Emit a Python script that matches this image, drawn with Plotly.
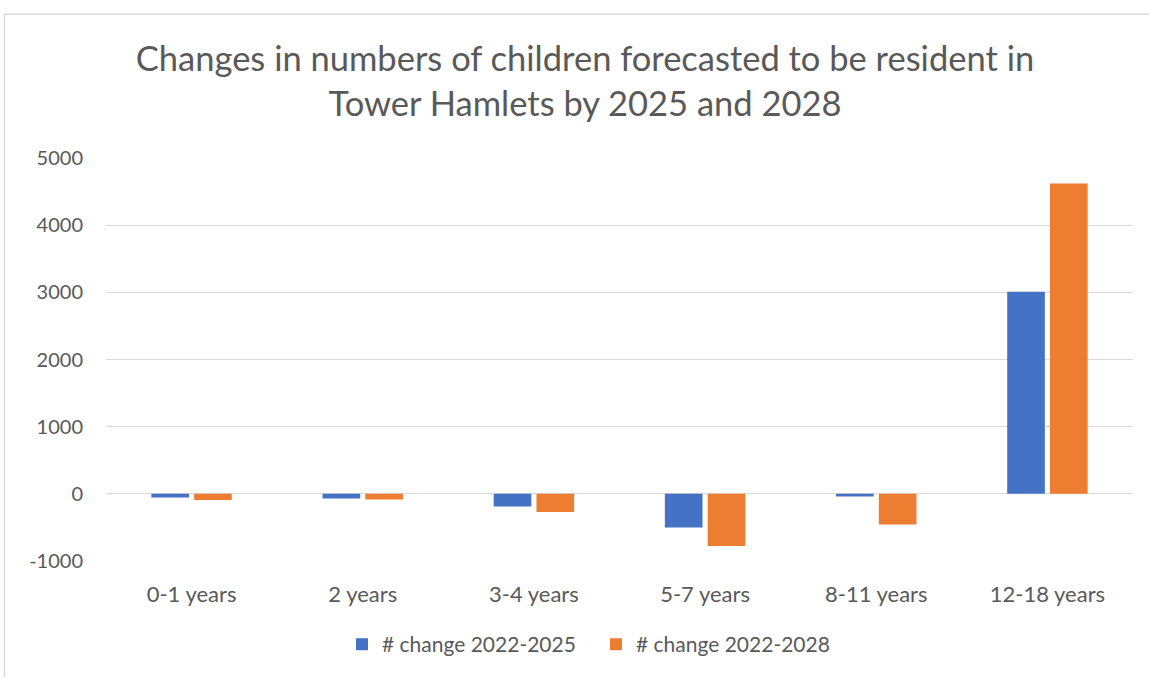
import plotly.graph_objects as go

# Age bands and forecast changes in resident children
age_bands = ["0-1 years", "2 years", "3-4 years", "5-7 years", "8-11 years", "12-18 years"]
change_2025 = [-55, -70, -190, -500, -40, 3010]
change_2028 = [-90, -85, -270, -775, -455, 4620]

series_names = ["# change 2022-2025", "# change 2022-2028"]
y_ticks = [-1000, 0, 1000, 2000, 3000, 4000, 5000]

FONT = "Lato"
GREY = "#595959"

fig = go.Figure()
fig.add_trace(go.Bar(x=age_bands, y=change_2025, name=series_names[0],
                     marker=dict(color="#4472C4", line=dict(width=0))))
fig.add_trace(go.Bar(x=age_bands, y=change_2028, name=series_names[1],
                     marker=dict(color="#ED7D31", line=dict(width=0))))

L, R, T, B = 106, 16, 158, 114
W, H = 1149, 677
pw, ph = W - L - R, H - T - B

def px_x(p):
    return (p - L) / pw

def px_y(p):
    return (H - B - p) / ph

fig.update_layout(
    width=W, height=H,
    margin=dict(l=L, r=R, t=T, b=B, pad=0),
    paper_bgcolor="white", plot_bgcolor="white",
    font=dict(family=FONT, color=GREY),
    barmode="group", bargap=0.5, bargroupgap=0.12,
    title=dict(
        text="Changes in numbers of children forecasted to be resident in<br>Tower Hamlets by 2025 and 2028",
        x=585 / W, xanchor="center", xref="container",
        y=1 - 71 / H, yanchor="middle", yref="container",
        font=dict(family=FONT, size=34.5, color=GREY),
    ),
    xaxis=dict(showgrid=False, showline=False, zeroline=False, ticks="",
               tickfont=dict(family=FONT, size=22, color=GREY),
               ticklabelstandoff=18),
    yaxis=dict(range=[-1000, 5000], tickvals=y_ticks,
               ticktext=[str(v) for v in y_ticks], showgrid=True,
               gridcolor="#d9d9d9", gridwidth=1, zeroline=False, showline=False,
               tickfont=dict(family=FONT, size=20, color=GREY),
               ticklabelstandoff=22),
    legend=dict(orientation="h", x=px_x(596), xanchor="center",
                y=px_y(647), yanchor="middle",
                font=dict(family=FONT, size=21, color=GREY),
                itemwidth=30, entrywidth=209, tracegroupgap=0),
    showlegend=True,
    shapes=[dict(type="rect", xref="paper", yref="paper",
                 x0=px_x(4.5), x1=px_x(1200), y0=px_y(720), y1=px_y(13.5),
                 line=dict(color="#d9d9d9", width=1.5), fillcolor="rgba(0,0,0,0)",
                 layer="below")],
)

fig.write_html("out.html")
